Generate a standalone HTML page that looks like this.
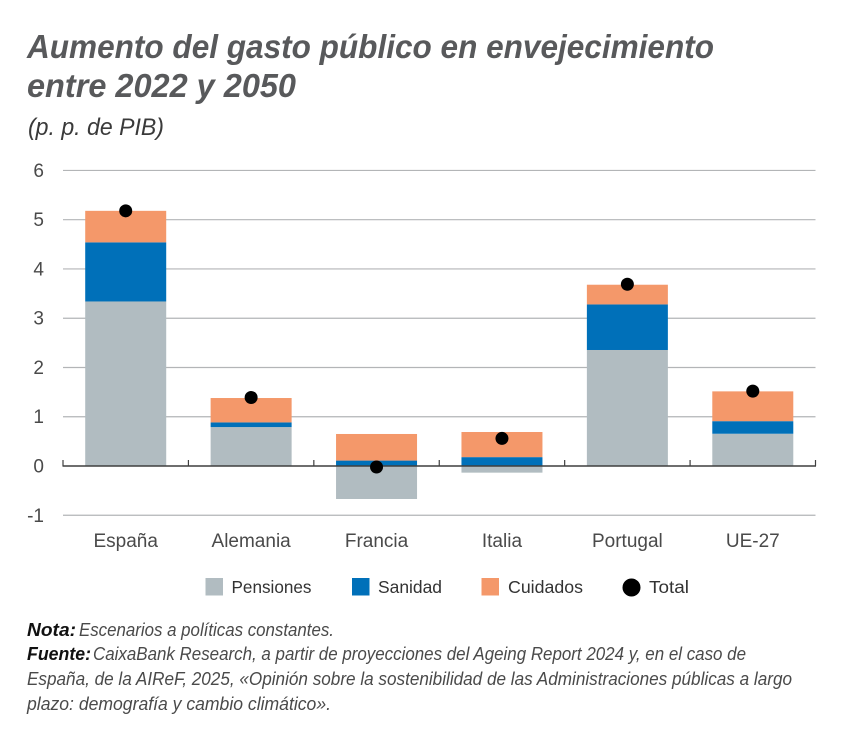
<!DOCTYPE html>
<html lang="es">
<head>
<meta charset="utf-8">
<title>Aumento del gasto público en envejecimiento entre 2022 y 2050</title>
<style>
html,body{margin:0;padding:0;background:#fff}
svg{display:block}
text{font-family:"Liberation Sans",sans-serif}
.title{font-size:33px;font-weight:bold;font-style:italic;fill:#58595b}
.sub{font-size:24px;font-style:italic;fill:#3a3a3a}
.tick{font-size:19px;fill:#4a4a4a}
.leg{font-size:17.5px;fill:#333}
.note{font-size:18px;font-style:italic;fill:#4a4a4a}
.noteb{font-size:18px;font-style:italic;font-weight:bold;fill:#111}
</style>
</head>
<body>
<svg id="chart" width="865" height="735" viewBox="0 0 865 735" xmlns="http://www.w3.org/2000/svg">
<rect width="865" height="735" fill="#fff"/>
<text class="title" x="27" y="58" textLength="687" lengthAdjust="spacingAndGlyphs">Aumento del gasto público en envejecimiento</text>
<text class="title" x="27" y="97" textLength="269" lengthAdjust="spacingAndGlyphs">entre 2022 y 2050</text>
<text class="sub" x="28" y="135" textLength="136" lengthAdjust="spacingAndGlyphs">(p. p. de PIB)</text>
<g id="grid"></g>
<g id="ylabels"></g>
<g id="bars"></g>
<g id="axis"></g>
<g id="xlabels"></g>
<g id="dots"></g>
<g>
<g>
<rect x="205.5" y="578" width="17.5" height="17.5" fill="#b1bcc1"/>
<text class="leg" x="231.5" y="593" textLength="80" lengthAdjust="spacingAndGlyphs">Pensiones</text>
</g>
<g>
<rect x="352" y="578" width="17.5" height="17.5" fill="#0070b9"/>
<text class="leg" x="378" y="593" textLength="64" lengthAdjust="spacingAndGlyphs">Sanidad</text>
</g>
<g>
<rect x="481.5" y="578" width="17.5" height="17.5" fill="#f4986a"/>
<text class="leg" x="508" y="593" textLength="75" lengthAdjust="spacingAndGlyphs">Cuidados</text>
</g>
<g>
<circle cx="631.5" cy="587.5" r="9" fill="#000"/>
<text class="leg" x="649" y="593" textLength="40" lengthAdjust="spacingAndGlyphs">Total</text>
</g>
</g>
<g>
<text class="noteb" x="27" y="636" textLength="49" lengthAdjust="spacingAndGlyphs">Nota:</text>
<text class="note" x="79" y="636" textLength="255" lengthAdjust="spacingAndGlyphs">Escenarios a políticas constantes.</text>
<text class="noteb" x="27" y="660" textLength="64" lengthAdjust="spacingAndGlyphs">Fuente:</text>
<text class="note" x="93" y="660" textLength="653" lengthAdjust="spacingAndGlyphs">CaixaBank Research, a partir de proyecciones del Ageing Report 2024 y, en el caso de</text>
<text class="note" x="27" y="685" textLength="765" lengthAdjust="spacingAndGlyphs">España, de la AIReF, 2025, «Opinión sobre la sostenibilidad de las Administraciones públicas a largo</text>
<text class="note" x="27" y="710" textLength="304" lengthAdjust="spacingAndGlyphs">plazo: demografía y cambio climático».</text>
</g>
</svg>
<script>
const categories = ["España", "Alemania", "Francia", "Italia", "Portugal", "UE-27"];
const pensiones = [3.34, 0.79, -0.67, -0.135, 2.355, 0.655];
const sanidad = [1.20, 0.095, 0.11, 0.18, 0.925, 0.255];
const cuidados = [0.64, 0.495, 0.54, 0.51, 0.40, 0.605];
const total = [5.18, 1.39, -0.02, 0.56, 3.69, 1.52];
const yTicks = [6, 5, 4, 3, 2, 1, 0, -1];

const NS = "http://www.w3.org/2000/svg";
const plotLeft = 63, plotRight = 815.5, yZero = 466, unit = 49.26, barWidth = 81;
const band = (plotRight - plotLeft) / categories.length;
function xCenter(i) { return plotLeft + band * (i + 0.5); }
function yScale(v) { return yZero - v * unit; }
function make(tag, attrs, parent) {
  const el = document.createElementNS(NS, tag);
  for (const k in attrs) el.setAttribute(k, attrs[k]);
  parent.appendChild(el);
  return el;
}
const gGrid = document.getElementById("grid");
const gY = document.getElementById("ylabels");
const gBars = document.getElementById("bars");
const gAxis = document.getElementById("axis");
const gX = document.getElementById("xlabels");
const gDots = document.getElementById("dots");

yTicks.forEach(function (t) {
  if (t !== 0) {
    const line = make("line", {x1: plotLeft, x2: plotRight, y1: yScale(t), y2: yScale(t), stroke: "#b3b5b7", "stroke-width": 1.2}, gGrid);
    
    
  }
  const label = make("text", {x: 44, y: yScale(t) + 6.5, "text-anchor": "end", class: "tick"}, gY);
  label.textContent = String(t);
  
  
});

function segment(i, from, to, color, name) {
  const top = Math.max(yScale(from), yScale(to)) === yScale(from) ? yScale(to) : yScale(from);
  const rect = make("rect", {x: xCenter(i) - barWidth / 2, y: top, width: barWidth, height: Math.abs(yScale(from) - yScale(to)), fill: color}, gBars);
  
  
}

categories.forEach(function (c, i) {
  let pos = 0, neg = 0;
  [[pensiones[i], "#b1bcc1", "bar-pensiones"], [sanidad[i], "#0070b9", "bar-sanidad"], [cuidados[i], "#f4986a", "bar-cuidados"]].forEach(function (s) {
    if (s[0] >= 0) { segment(i, pos, pos + s[0], s[1], s[2]); pos += s[0]; }
    else { segment(i, neg, neg + s[0], s[1], s[2]); neg += s[0]; }
  });
  const label = make("text", {x: xCenter(i), y: 547, "text-anchor": "middle", class: "tick"}, gX);
  label.textContent = c;
  
  
  const dot = make("circle", {cx: xCenter(i), cy: yScale(total[i]), r: 6.5, fill: "#000"}, gDots);
  
  
});

const axisLine = make("line", {x1: plotLeft - 0.5, x2: plotRight + 0.5, y1: yZero, y2: yZero, stroke: "#3f3f3f", "stroke-width": 1.6}, gAxis);


for (let i = 0; i <= categories.length; i++) {
  const tick = make("line", {x1: plotLeft + band * i, x2: plotLeft + band * i, y1: yZero, y2: yZero - 6, stroke: "#3f3f3f", "stroke-width": 1.2}, gAxis);
  
  
}
</script>
</body>
</html>
